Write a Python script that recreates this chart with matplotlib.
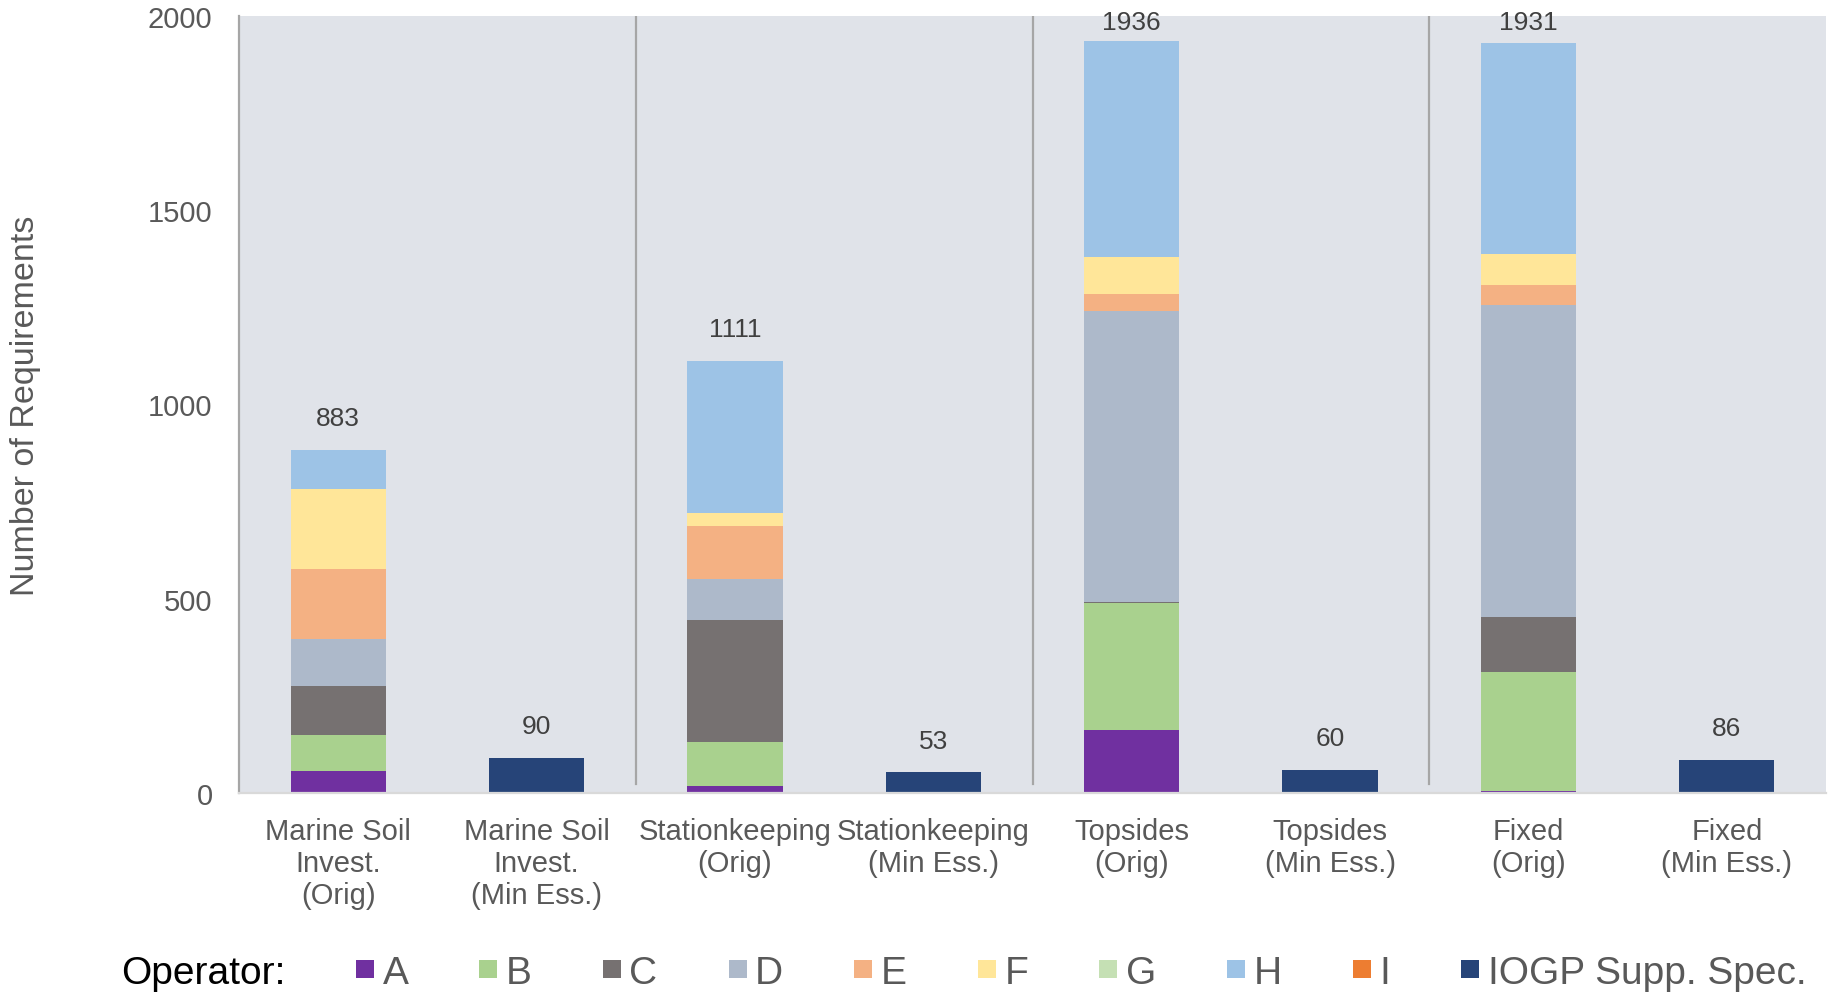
import numpy as np
import matplotlib
matplotlib.use("Agg")
import matplotlib.pyplot as plt
from matplotlib.lines import Line2D

plt.rcParams['font.family'] = ['Liberation Sans', 'DejaVu Sans']

categories = ["Marine Soil\nInvest.\n(Orig)", "Marine Soil\nInvest.\n(Min Ess.)",
              "Stationkeeping\n(Orig)", "Stationkeeping\n(Min Ess.)",
              "Topsides\n(Orig)", "Topsides\n(Min Ess.)",
              "Fixed\n(Orig)", "Fixed\n(Min Ess.)"]

operators = ["A", "B", "C", "D", "E", "F", "G", "H", "I", "IOGP Supp. Spec."]

# segment values per operator, one per category
op_A = [57, 0, 17, 0, 163, 0, 6, 0]
op_B = [93, 0, 113, 0, 326, 0, 305, 0]
op_C = [125, 0, 314, 0, 2, 0, 142, 0]
op_D = [121, 0, 107, 0, 749, 0, 803, 0]
op_E = [181, 0, 135, 0, 45, 0, 51, 0]
op_F = [205, 0, 34, 0, 95, 0, 79, 0]
op_G = [0, 0, 0, 0, 0, 0, 0, 0]
op_H = [101, 0, 391, 0, 556, 0, 545, 0]
op_I = [0, 0, 0, 0, 0, 0, 0, 0]
iogp = [0, 90, 0, 53, 0, 60, 0, 86]

colors = ["#7030A0", "#A9D18E", "#767171", "#ADB9CA", "#F4B183",
          "#FFE699", "#C5E0B4", "#9DC3E6", "#ED7D31", "#264478"]

series = [op_A, op_B, op_C, op_D, op_E, op_F, op_G, op_H, op_I, iogp]

fig = plt.figure(figsize=(18.31, 9.95), dpi=100)
ax = fig.add_axes([0.1305, 0.202, 0.8668, 0.781])
ax.set_facecolor("#E0E3E9")

x = np.arange(len(categories))
bottom = np.zeros(len(categories))
for vals, col in zip(series, colors):
    vals = np.array(vals, dtype=float)
    ax.bar(x, vals, 0.48, bottom=bottom, color=col, linewidth=0)
    bottom += vals

totals = bottom
# labels above bars, pushed down near the top of the plot
label_y = np.minimum(totals + 82, 1985)
for xi, t, ly in zip(x, totals, label_y):
    ax.text(xi, ly, f"{int(t)}", ha="center", va="center",
            fontsize=19, color="#404040")

for sep in [1.5, 3.5, 5.5]:
    ax.axvline(sep, ymin=0.012, ymax=1, color="#A6A6A6", lw=1.6)

ax.set_xlim(-0.5, 7.5)
ax.set_ylim(0, 2000)
ax.set_yticks([0, 500, 1000, 1500, 2000])
ax.set_xticks(x)
ax.set_xticklabels(categories, multialignment="center", linespacing=1.2)
ax.tick_params(axis="x", length=0, pad=17, labelsize=21, labelcolor="#595959")
ax.tick_params(axis="y", length=0, pad=19, labelsize=21, labelcolor="#595959")

for s in ["top", "right"]:
    ax.spines[s].set_visible(False)
ax.spines["left"].set_color("#A6A6A6")
ax.spines["left"].set_linewidth(1.6)
ax.spines["bottom"].set_color("#D9D9D9")
ax.spines["bottom"].set_linewidth(1.6)

ax.set_ylabel("Number of Requirements", fontsize=24.5, color="#595959", labelpad=0)
ax.yaxis.set_label_coords(-0.125, 0.5)

handles = [Line2D([], [], marker="s", linestyle="none", markersize=12.6,
                  markerfacecolor=c, markeredgewidth=0) for c in colors]
fig.legend(handles, operators, loc="center left", bbox_to_anchor=(0.194, 0.021),
           ncol=10, frameon=False, fontsize=28, handlelength=0.5,
           handletextpad=0.2, columnspacing=1.81, borderpad=0, borderaxespad=0,
           labelcolor="#595959")
fig.text(0.066, 0.021, "Operator:", fontsize=28, color="black", va="center", ha="left")

fig.savefig("out.png", dpi=100, facecolor="white")
